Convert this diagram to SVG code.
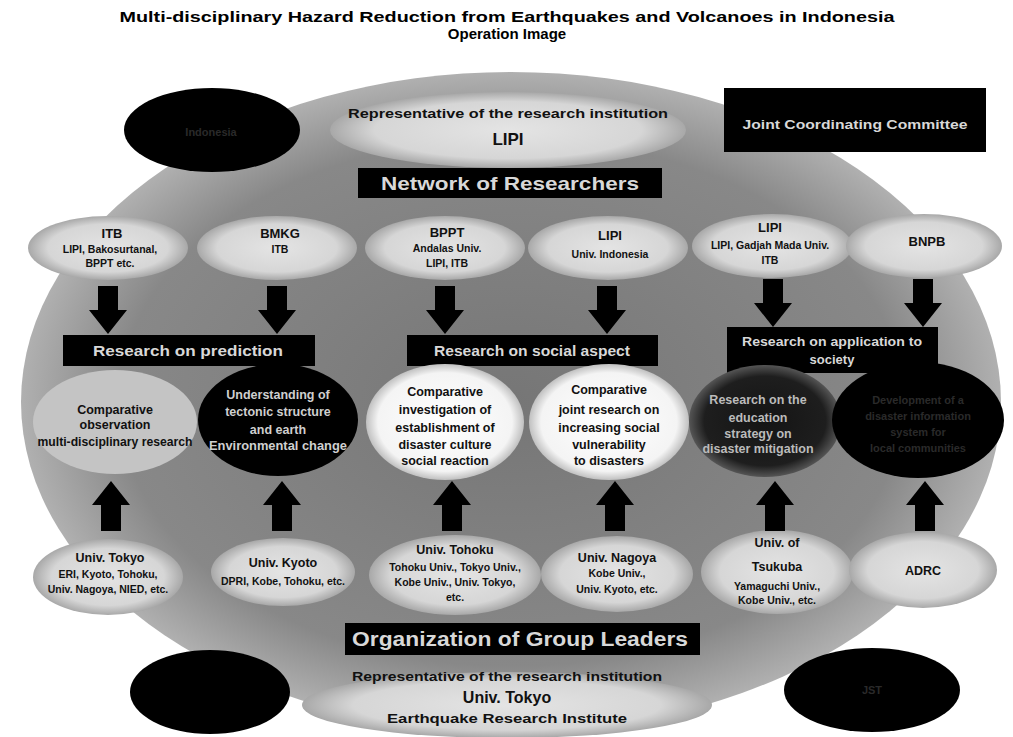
<svg xmlns="http://www.w3.org/2000/svg" width="1013" height="737" viewBox="0 0 1013 737">
<defs>
<radialGradient id="bg" cx="50%" cy="50%" r="50%">
<stop offset="0" stop-color="#767676"/>
<stop offset="0.8" stop-color="#888888"/>
<stop offset="1" stop-color="#b0b0b0"/>
</radialGradient>
<radialGradient id="lite" cx="50%" cy="50%" r="50%">
<stop offset="0" stop-color="#e4e4e4"/>
<stop offset="0.75" stop-color="#d6d6d6"/>
<stop offset="1" stop-color="#a8a8a8"/>
</radialGradient>
<radialGradient id="white" cx="50%" cy="50%" r="50%">
<stop offset="0" stop-color="#ffffff"/>
<stop offset="0.85" stop-color="#f4f4f4"/>
<stop offset="1" stop-color="#c0c0c0"/>
</radialGradient>
<radialGradient id="dark" cx="50%" cy="50%" r="50%">
<stop offset="0" stop-color="#141414"/>
<stop offset="0.8" stop-color="#1e1e1e"/>
<stop offset="1" stop-color="#555555"/>
</radialGradient>
<path id="down" d="M -10 -48 L 10 -48 L 10 -24 L 19 -24 L 0 0 L -19 -24 L -10 -24 Z"/>
<path id="up" d="M -10 50 L 10 50 L 10 24 L 19 24 L 0 0 L -19 24 L -10 24 Z"/>
</defs>
<style>
text { font-family: "Liberation Sans", Arial, sans-serif; font-weight: bold; text-anchor: middle; }
.title { font-size: 15px; fill: #000; }
.bar { fill: #000; }
.bartxt { fill: #d8d8d8; font-size: 15px; }
.bigtxt { fill: #d8d8d8; font-size: 19px; }
.lite { fill: url(#lite); }
.white { fill: url(#white); }
.blk { fill: #000; }
.dark { fill: url(#dark); }
.h { font-size: 13px; fill: #111; }
.s { font-size: 10.5px; fill: #111; }
.m { font-size: 12.5px; fill: #111; }
.mw { font-size: 12.5px; fill: #cfcfcf; }
.faint { font-size: 11px; fill: #2a2a2a; }
.arr { fill: #000; }
</style>
<rect width="1013" height="737" fill="#ffffff"/>

<g id="title">
<text class="title" x="507" y="22" textLength="775" lengthAdjust="spacingAndGlyphs">Multi-disciplinary Hazard Reduction from Earthquakes and Volcanoes in Indonesia</text>
<text class="title" x="507" y="39">Operation Image</text>
</g>

<g id="background">
<ellipse cx="511" cy="402" rx="490" ry="330" fill="url(#bg)"/>
</g>

<g id="lipi-rep">
<ellipse class="lite" cx="508" cy="130" rx="178" ry="38"/>
<text class="h" x="508" y="118" textLength="320" lengthAdjust="spacingAndGlyphs">Representative of the research institution</text>
<text x="508" y="145" style="font-size:17px;fill:#111">LIPI</text>
</g>

<g id="indonesia">
<ellipse class="blk" cx="212" cy="130" rx="88" ry="42"/>
<text class="faint" x="211" y="136">Indonesia</text>
</g>

<g id="jcc">
<rect class="bar" x="724" y="88" width="262" height="64"/>
<text class="bartxt" x="855" y="129" style="font-size:13px" textLength="225" lengthAdjust="spacingAndGlyphs">Joint Coordinating Committee</text>
</g>

<g id="network">
<rect class="bar" x="358" y="168" width="304" height="30"/>
<text class="bigtxt" x="510" y="190" textLength="258" lengthAdjust="spacingAndGlyphs">Network of Researchers</text>
</g>

<g id="inst-itb">
<ellipse class="lite" cx="108" cy="248" rx="80" ry="32"/>
<text class="h" x="112" y="238">ITB</text>
<text class="s" x="110" y="253">LIPI, Bakosurtanal,</text>
<text class="s" x="110" y="267">BPPT etc.</text>
</g>
<g id="inst-bmkg">
<ellipse class="lite" cx="277" cy="248" rx="80" ry="32"/>
<text class="h" x="280" y="238">BMKG</text>
<text class="s" x="280" y="253">ITB</text>
</g>
<g id="inst-bppt">
<ellipse class="lite" cx="445" cy="248" rx="80" ry="32"/>
<text class="h" x="447" y="237">BPPT</text>
<text class="s" x="447" y="252">Andalas Univ.</text>
<text class="s" x="447" y="267">LIPI, ITB</text>
</g>
<g id="inst-lipi1">
<ellipse class="lite" cx="608" cy="248" rx="80" ry="32"/>
<text class="h" x="610" y="240">LIPI</text>
<text class="s" x="610" y="258">Univ. Indonesia</text>
</g>
<g id="inst-lipi2">
<ellipse class="lite" cx="772" cy="246" rx="80" ry="32"/>
<text class="h" x="770" y="232">LIPI</text>
<text class="s" x="770" y="249">LIPI, Gadjah Mada Univ.</text>
<text class="s" x="770" y="264">ITB</text>
</g>
<g id="inst-bnpb">
<ellipse class="lite" cx="924" cy="246" rx="78" ry="32"/>
<text class="h" x="927" y="246">BNPB</text>
</g>

<g id="bar-prediction">
<rect class="bar" x="63" y="335" width="252" height="31"/>
<text class="bartxt" x="188" y="356" textLength="190" lengthAdjust="spacingAndGlyphs">Research on prediction</text>
</g>
<g id="bar-social">
<rect class="bar" x="407" y="335" width="251" height="31"/>
<text class="bartxt" x="532" y="356" textLength="196" lengthAdjust="spacingAndGlyphs">Research on social aspect</text>
</g>
<g id="bar-application">
<rect class="bar" x="727" y="327" width="211" height="46"/>
<text class="bartxt" x="832" y="346" style="font-size:13px" textLength="180" lengthAdjust="spacingAndGlyphs">Research on application to</text>
<text class="bartxt" x="832" y="364" style="font-size:13px">society</text>
</g>

<g id="res-1">
<ellipse cx="115" cy="422" rx="82" ry="52" fill="#c4c4c4"/>
<text class="m" x="115" y="414">Comparative</text>
<text class="m" x="115" y="429">observation</text>
<text class="m" x="115" y="446" textLength="155" lengthAdjust="spacingAndGlyphs">multi-disciplinary research</text>
</g>
<g id="res-2">
<ellipse class="blk" cx="278" cy="420" rx="80" ry="56"/>
<text class="mw" x="278" y="399">Understanding of</text>
<text class="mw" x="278" y="416">tectonic structure</text>
<text class="mw" x="278" y="434">and earth</text>
<text class="mw" x="278" y="450" textLength="138" lengthAdjust="spacingAndGlyphs">Environmental change</text>
</g>
<g id="res-3">
<ellipse class="white" cx="445" cy="422" rx="79" ry="58"/>
<text class="m" x="445" y="396">Comparative</text>
<text class="m" x="445" y="414">investigation of</text>
<text class="m" x="445" y="432">establishment of</text>
<text class="m" x="445" y="449">disaster culture</text>
<text class="m" x="445" y="465">social reaction</text>
</g>
<g id="res-4">
<ellipse class="white" cx="609" cy="422" rx="80" ry="58"/>
<text class="m" x="609" y="394">Comparative</text>
<text class="m" x="609" y="414">joint research on</text>
<text class="m" x="609" y="432">increasing social</text>
<text class="m" x="609" y="449">vulnerability</text>
<text class="m" x="609" y="465">to disasters</text>
</g>
<g id="res-5">
<ellipse class="dark" cx="765" cy="421" rx="76" ry="56"/>
<text class="mw" x="758" y="404" style="fill:#bbbbbb">Research on the</text>
<text class="mw" x="758" y="422" style="fill:#bbbbbb">education</text>
<text class="mw" x="758" y="438" style="fill:#bbbbbb">strategy on</text>
<text class="mw" x="758" y="453" style="fill:#bbbbbb">disaster mitigation</text>
</g>
<g id="res-6">
<ellipse class="blk" cx="918" cy="420" rx="86" ry="58"/>
<text class="faint" x="918" y="404">Development of a</text>
<text class="faint" x="918" y="420">disaster information</text>
<text class="faint" x="918" y="436">system for</text>
<text class="faint" x="918" y="452">local communities</text>
</g>

<g id="grp-tokyo">
<ellipse class="lite" cx="108" cy="577" rx="75" ry="38"/>
<text class="m" x="110" y="562">Univ. Tokyo</text>
<text class="s" x="108" y="578">ERI, Kyoto, Tohoku,</text>
<text class="s" x="108" y="593">Univ. Nagoya, NIED, etc.</text>
</g>
<g id="grp-kyoto">
<ellipse class="lite" cx="283" cy="572" rx="72" ry="34"/>
<text class="m" x="283" y="567">Univ. Kyoto</text>
<text class="s" x="283" y="585">DPRI, Kobe, Tohoku, etc.</text>
</g>
<g id="grp-tohoku">
<ellipse class="lite" cx="455" cy="575" rx="86" ry="40"/>
<text class="m" x="455" y="554">Univ. Tohoku</text>
<text class="s" x="455" y="571">Tohoku Univ., Tokyo Univ.,</text>
<text class="s" x="455" y="586">Kobe Univ., Univ. Tokyo,</text>
<text class="s" x="455" y="601">etc.</text>
</g>
<g id="grp-nagoya">
<ellipse class="lite" cx="617" cy="574" rx="76" ry="38"/>
<text class="m" x="617" y="562">Univ. Nagoya</text>
<text class="s" x="617" y="577">Kobe Univ.,</text>
<text class="s" x="617" y="593">Univ. Kyoto, etc.</text>
</g>
<g id="grp-tsukuba">
<ellipse class="lite" cx="777" cy="572" rx="76" ry="42"/>
<text class="m" x="777" y="547">Univ. of</text>
<text class="m" x="777" y="571">Tsukuba</text>
<text class="s" x="777" y="590">Yamaguchi Univ.,</text>
<text class="s" x="777" y="604">Kobe Univ., etc.</text>
</g>
<g id="grp-adrc">
<ellipse class="lite" cx="923" cy="570" rx="74" ry="38"/>
<text class="m" x="923" y="575">ADRC</text>
</g>

<g id="org-leaders">
<rect class="bar" x="345" y="623" width="355" height="32"/>
<text class="bigtxt" x="520" y="646" style="font-size:20px" textLength="336" lengthAdjust="spacingAndGlyphs">Organization of Group Leaders</text>
</g>

<g id="japan-left">
<ellipse class="blk" cx="210" cy="692" rx="80" ry="42"/>
</g>
<g id="japan-right">
<ellipse class="blk" cx="872" cy="690" rx="88" ry="42"/>
<text class="faint" x="872" y="694">JST</text>
</g>

<g id="tokyo-rep">
<ellipse class="lite" cx="507" cy="705" rx="205" ry="33"/>
<text class="m" x="507" y="681" textLength="310" lengthAdjust="spacingAndGlyphs">Representative of the research institution</text>
<text x="507" y="703" style="font-size:16px;fill:#111">Univ. Tokyo</text>
<text class="m" x="507" y="723" textLength="240" lengthAdjust="spacingAndGlyphs">Earthquake Research Institute</text>
</g>

<g id="connectors" class="arr">
<use href="#down" x="108" y="334"/>
<use href="#down" x="277" y="334"/>
<use href="#down" x="445" y="334"/>
<use href="#down" x="607" y="334"/>
<use href="#down" x="773" y="327"/>
<use href="#down" x="923" y="327"/>
<use href="#up" x="111" y="481"/>
<use href="#up" x="282" y="481"/>
<use href="#up" x="452" y="481"/>
<use href="#up" x="615" y="481"/>
<use href="#up" x="775" y="481"/>
<use href="#up" x="925" y="481"/>
</g>
</svg>
